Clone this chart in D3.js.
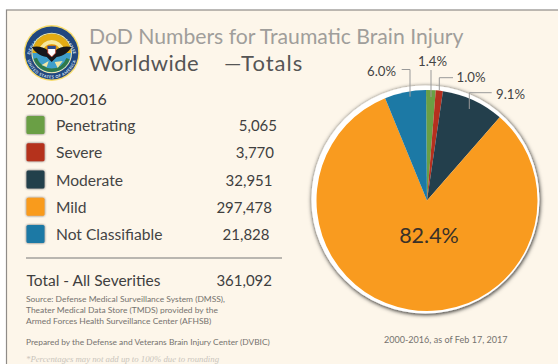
<!DOCTYPE html>
<html><head><meta charset="utf-8">
<script src="https://cdn.jsdelivr.net/npm/d3@7"></script>
<style>html,body{margin:0;padding:0;background:#fff;overflow:hidden}text{font-family:Lato,sans-serif}</style>
</head><body><svg id="c" width="558" height="364"></svg>
<script>
const categories=["Penetrating","Severe","Moderate","Mild","Not Classifiable"];
const values=[5065,3770,32951,297478,21828];
const valueLabels=["5,065","3,770","32,951","297,478","21,828"];
const colors=["#6a9f44","#b5301f","#233f4c","#f99b1f","#1c79a5"];
const pctLabels=["1.4%","1.0%","9.1%","82.4%","6.0%"];
const sourceLines=["Source: Defense Medical Surveillance System (DMSS),","Theater Medical Data Store (TMDS) provided by the","Armed Forces Health Surveillance Center (AFHSB)"];
const svg=d3.select("#c");
const defs=svg.append("defs");
const f=defs.append("filter").attr("id","sh").attr("x","-20%").attr("y","-20%").attr("width","140%").attr("height","140%");
f.append("feDropShadow").attr("dx",0.5).attr("dy",1).attr("stdDeviation",2.2).attr("flood-color","#111").attr("flood-opacity",.95);
const f2=defs.append("filter").attr("id","sw").attr("x","-30%").attr("y","-30%").attr("width","160%").attr("height","160%");
f2.append("feDropShadow").attr("dx",0).attr("dy",0).attr("stdDeviation",.9).attr("flood-color","#333").attr("flood-opacity",.8);

svg.append("rect").attr("x",6.5).attr("y",10).attr("width",560).attr("height",370).attr("fill","#fdf6ea").attr("stroke","#8f8c88").attr("stroke-width",1.2);

function txt(x,y,s,size,fill,anchor,ls){
  const t=svg.append("text").attr("x",x).attr("y",y).attr("font-size",size).attr("fill",fill).attr("text-anchor",anchor||"start").text(s);
  if(ls)t.attr("letter-spacing",ls);
  return t;
}
// seal
const seal=svg.append("g").attr("transform","translate(51.7,53)");
seal.append("circle").attr("r",28).attr("fill","#f7dc6b");
seal.append("circle").attr("r",26.6).attr("fill","#21477f");
defs.append("path").attr("id","sealTop").attr("d","M-21.8 3A22 22 0 0 1 21.8 3");
defs.append("path").attr("id","sealBot").attr("d","M-25 5A25.5 25.5 0 0 0 25 5");
seal.append("text").attr("font-size",4).attr("font-weight",700).attr("fill","#dfe6f2").attr("letter-spacing",.4).append("textPath").attr("href","#sealTop").attr("startOffset","50%").attr("text-anchor","middle").text("DEPARTMENT OF DEFENSE");
seal.append("text").attr("font-size",4).attr("font-weight",700).attr("fill","#dfe6f2").attr("letter-spacing",.4).append("textPath").attr("href","#sealBot").attr("startOffset","50%").attr("text-anchor","middle").text("UNITED STATES OF AMERICA");
seal.append("circle").attr("r",20.3).attr("fill","#f4e9b0");
seal.append("circle").attr("r",19.3).attr("fill","#3f9fcb");
seal.append("path").attr("d",d3.arc()({innerRadius:0,outerRadius:19.3,startAngle:-Math.PI/2,endAngle:Math.PI/2})).attr("fill","#e3ab13");
seal.append("path").attr("d",d3.arc()({innerRadius:9,outerRadius:13,startAngle:-1.3,endAngle:1.3})).attr("fill","#f7e9a0");
seal.append("path").attr("d",d3.arc()({innerRadius:15.5,outerRadius:19,startAngle:1.9,endAngle:4.4})).attr("fill","#2f7a4a");
seal.append("path").attr("d","M-3-2C-9-7-15-7-20-6-17-1-12 3-5 4L0 9 5 4C12 3 17-1 20-6 15-7 9-7 3-2Z").attr("fill","#17171a");
seal.append("path").attr("d","M-4-7H4V0L0 4-4 0Z").attr("fill","#fff").attr("stroke","#b5301f").attr("stroke-width",.8);
seal.append("rect").attr("x",-4).attr("y",-7).attr("width",8).attr("height",3).attr("fill","#2b4c8c");
seal.append("path").attr("d","M-10 12-3 8-5 14ZM11 8 3 9 6 15Z").attr("fill","#f2e7a6");

txt(89,44,"DoD Numbers for Traumatic Brain Injury",21.2,"#a09e9b");
txt(89,71,"Worldwide",22,"#555",null,.45);
txt(224,71,"—Totals",22,"#555",null,1);
txt(26.5,105,"2000-2016",16,"#3a3a3a");

const rowY=d3.scalePoint().domain(categories).range([125.5,234.5]);
const valueRight=[277,274,272.5,272,269.5];
categories.forEach((c,i)=>{
  const y=rowY(c);
  svg.append("rect").attr("x",26.5).attr("y",y-9.5).attr("width",18).attr("height",18).attr("rx",1.5).attr("fill",colors[i]).attr("filter","url(#sw)");
  txt(56,y+5.5,c,15.6,"#444");
  txt(valueRight[i],y+5.5,valueLabels[i],15,"#3f3f3f","end");
});
svg.append("line").attr("x1",26).attr("x2",282).attr("y1",258).attr("y2",258).attr("stroke","#777").attr("stroke-width",1);
txt(26.5,286,"Total - All Severities",15.5,"#3f3f3f");
txt(272,286,"361,092",15,"#3f3f3f","end");
sourceLines.forEach((s,i)=>txt(26,302+i*11,s,8.45,"#75726e"));
txt(26,345,"Prepared by the Defense and Veterans Brain Injury Center (DVBIC)",8.4,"#75726e");
txt(26,362,"*Percentages may not add up to 100% due to rounding",8.75,"#c9c5bc").style("font-family","Liberation Serif").style("font-style","italic");
txt(384,343,"2000-2016, as of Feb 17, 2017",9.05,"#75726e");

// pie
const cx=427,cy=200.5,r=110.5;
svg.append("circle").attr("cx",425.4).attr("cy",199.4).attr("r",114).attr("fill","#fff").attr("filter","url(#sh)");
const g=svg.append("g").attr("transform",`translate(${cx},${cy})`);
const tilt=-0.5*Math.PI/180;
const pie=d3.pie().sort(null).startAngle(tilt).endAngle(2*Math.PI+tilt)(values);
const arc=d3.arc().innerRadius(0).outerRadius(r);
g.selectAll("path.s").data(pie).join("path").attr("class","s").attr("d",arc).attr("fill",(d,i)=>colors[i]);

// leader lines & labels
const leaders=[
 [[431,97],[431,70]],
 [[439.3,90],[439.3,77.7],[453,77.7]],
 [[469.3,109],[469.3,92.7],[491.7,92.7]],
 [[410,96.7],[410,69.5],[401.7,69.5]]
];
leaders.forEach(p=>svg.append("path").attr("d",d3.line()(p)).attr("fill","none").attr("stroke","#999").attr("stroke-width",1));
txt(432.5,66,pctLabels[0],13.2,"#444","middle");
txt(456.5,82,pctLabels[1],13.2,"#444");
txt(496,99,pctLabels[2],13.2,"#444");
txt(396,76,pctLabels[4],13.2,"#444","end");
txt(429,243,pctLabels[3],21.5,"#3a3128","middle");
</script></body></html>
